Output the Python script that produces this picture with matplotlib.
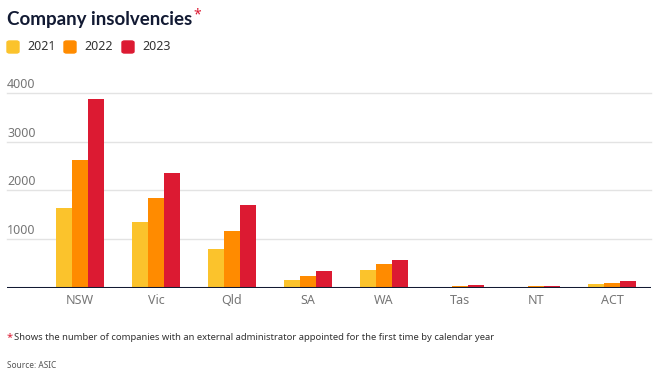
import numpy as np
import matplotlib.pyplot as plt
from matplotlib.patches import FancyBboxPatch

# --- Data ---
states = ["NSW", "Vic", "Qld", "SA", "WA", "Tas", "NT", "ACT"]
years = ["2021", "2022", "2023"]
v2021 = [1640, 1350, 795, 155, 357, 8, 6, 70]
v2022 = [2630, 1845, 1165, 237, 484, 30, 25, 93]
v2023 = [3887, 2361, 1701, 340, 567, 50, 32, 134]
yticks = [1000, 2000, 3000, 4000]

colors = ["#fbc32c", "#ff8b00", "#dc1a32"]
navy = "#121a33"
grey = "#767676"

plt.rcParams['font.family'] = ['Noto Sans', 'DejaVu Sans']

W, H = 658, 377
fig = plt.figure(figsize=(W / 100, H / 100), dpi=100)

# axes placed in pixel units: left 7, right 651, baseline y=287.5, 4000 line y=93.3
ax = fig.add_axes([7 / W, (H - 287.5) / H, (651 - 7) / W, (287.5 - 93.3) / H])
ax.set_xlim(-0.96, 7.51)
ax.set_ylim(0, 4000)

x = np.arange(len(states))
bw = 0.21
for i, (vals, c) in enumerate(zip([v2021, v2022, v2023], colors)):
    ax.bar(x + (i - 1) * bw, vals, width=bw, color=c, zorder=3)

# gridlines + inline y labels
for t in yticks:
    ax.axhline(t, color="#e3e3e3", lw=1, zorder=1, clip_on=False)
    ax.text(0, t + 40, str(t), transform=ax.get_yaxis_transform(), ha="left", va="bottom",
            fontsize=9, color=grey)
ax.axhline(0, color=navy, lw=2.2, zorder=4)

for s in ax.spines.values():
    s.set_visible(False)
ax.set_yticks([])
ax.set_xticks(x)
ax.set_xticklabels(states, fontsize=9, color=grey)
ax.tick_params(axis="x", length=0, pad=5)

# title
title = fig.text(7 / W, 1 - 20 / H, "Company insolvencies", fontsize=13.5, fontweight="bold",
                 family=["Lato", "DejaVu Sans"], color=navy, va="center", ha="left")
fig.canvas.draw()
bb = title.get_window_extent()
fig.text(bb.x1 / W + 1 / W, 1 - 15 / H, "*", fontsize=10, fontweight="bold",
         color="#dc1a32", va="center", ha="left")

# legend
lx = [7, 64, 122]
for px, yr, c in zip(lx, years, colors):
    fig.patches.append(FancyBboxPatch(((px) / W, 1 - 53 / H), 12 / W, 12 / H,
                                      boxstyle="round,pad=0,rounding_size=0.004",
                                      transform=fig.transFigure, color=c))
    fig.text((px + 20) / W, 1 - 47 / H, yr, fontsize=9, color="#333333", va="center", ha="left")

# footnotes
fig.text(7 / W, 1 - 338 / H, "*", fontsize=8, color="#dc1a32", va="center", ha="left")
fig.text(14 / W, 1 - 338 / H,
         "Shows the number of companies with an external administrator appointed for the first time by calendar year",
         fontsize=6.8, color="#333333", va="center", ha="left")
fig.text(7 / W, 1 - 365 / H, "Source: ASIC", fontsize=6, color="#555555", va="center", ha="left")

fig.savefig("out.png", dpi=100)
